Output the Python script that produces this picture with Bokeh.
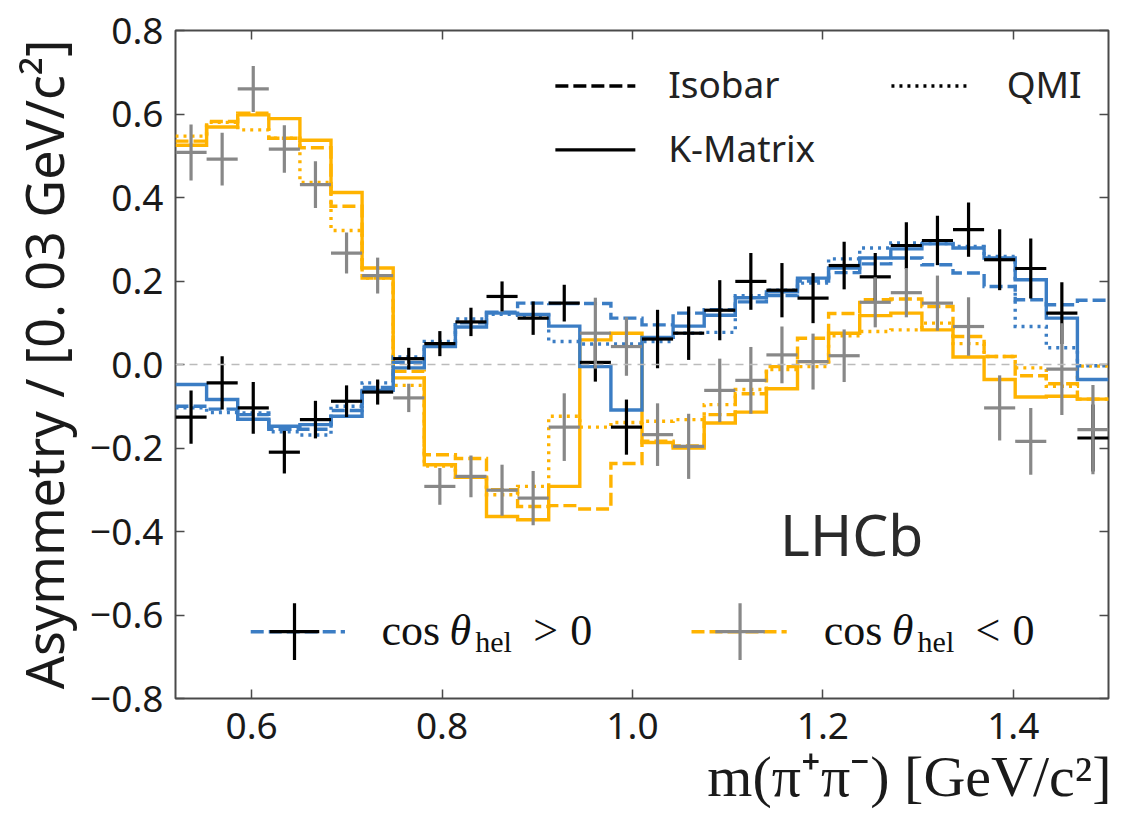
import numpy as np
from bokeh.plotting import figure
from bokeh.models import FixedTicker, LinearAxis, Label, Span, CustomJSTickFormatter, Title
from bokeh.embed import file_html
from bokeh.resources import INLINE

# ---------------------------------------------------------------- binning
M_MIN, M_MAX, N_BINS = 0.52, 1.50, 30
edges = np.linspace(M_MIN, M_MAX, N_BINS + 1)
centres = 0.5 * (edges[:-1] + edges[1:])

# ---------------------------------------------------------------- data, cos(theta_hel) > 0
asym_pos = [-0.126, -0.044, -0.104, -0.210, -0.132, -0.088, -0.066, 0.014, 0.050, 0.102,
            0.163, 0.111, 0.147, 0.005, -0.150, 0.061, 0.075, 0.130, 0.199, 0.178,
            0.159, 0.237, 0.210, 0.285, 0.297, 0.323, 0.251, 0.230, 0.123, -0.176]
err_pos = [0.064, 0.064, 0.062, 0.051, 0.045, 0.038, 0.030, 0.026, 0.030, 0.034,
           0.036, 0.040, 0.044, 0.046, 0.066, 0.070, 0.064, 0.072, 0.068, 0.065,
           0.060, 0.057, 0.057, 0.056, 0.059, 0.065, 0.073, 0.072, 0.074, 0.080]

# ---------------------------------------------------------------- data, cos(theta_hel) < 0
asym_neg = [0.508, 0.492, 0.660, 0.516, 0.431, 0.267, 0.213, -0.080, -0.292, -0.268,
            -0.301, -0.320, -0.150, 0.075, 0.043, -0.168, -0.196, -0.062, -0.038, 0.023,
            0.007, 0.021, 0.149, 0.172, 0.147, 0.091, -0.104, -0.184, -0.011, -0.156]
err_neg = [0.067, 0.063, 0.055, 0.057, 0.056, 0.049, 0.043, 0.034, 0.044, 0.050,
           0.061, 0.065, 0.081, 0.085, 0.070, 0.075, 0.078, 0.076, 0.080, 0.068,
           0.067, 0.063, 0.060, 0.059, 0.066, 0.070, 0.078, 0.080, 0.110, 0.107]

# ---------------------------------------------------------------- amplitude models, cos > 0
kmatrix_pos = [-0.048, -0.084, -0.131, -0.148, -0.144, -0.124, -0.062, -0.008, 0.043, 0.090,
               0.123, 0.120, 0.092, -0.005, -0.109, 0.065, 0.092, 0.118, 0.160, 0.174,
               0.207, 0.231, 0.255, 0.277, 0.289, 0.279, 0.255, 0.203, 0.111, -0.036]
isobar_pos = [-0.100, -0.107, -0.120, -0.155, -0.155, -0.110, -0.055, 0.005, 0.050, 0.100,
              0.125, 0.147, 0.146, 0.146, 0.111, 0.095, 0.123, 0.131, 0.150, 0.165,
              0.200, 0.220, 0.241, 0.255, 0.239, 0.219, 0.187, 0.155, 0.143, 0.154]
qmi_pos = [-0.104, -0.115, -0.116, -0.161, -0.169, -0.100, -0.044, 0.018, 0.055, 0.109,
           0.120, 0.118, 0.055, 0.049, 0.049, 0.055, 0.075, 0.077, 0.165, 0.178,
           0.195, 0.253, 0.279, 0.291, 0.290, 0.283, 0.259, 0.091, 0.040, -0.003]

# ---------------------------------------------------------------- amplitude models, cos < 0
kmatrix_neg = [0.525, 0.569, 0.598, 0.589, 0.537, 0.412, 0.231, -0.032, -0.240, -0.270,
               -0.364, -0.372, -0.292, 0.059, 0.075, -0.187, -0.200, -0.140, -0.114, -0.058,
               0.007, 0.075, 0.117, 0.123, 0.083, 0.018, -0.036, -0.078, -0.076, -0.083]
isobar_neg = [0.535, 0.582, 0.602, 0.542, 0.519, 0.379, 0.207, -0.016, -0.216, -0.225,
              -0.300, -0.340, -0.338, -0.346, -0.237, -0.184, -0.195, -0.120, -0.070, -0.005,
              0.063, 0.122, 0.155, 0.157, 0.139, 0.067, 0.019, -0.027, -0.046, -0.083]
qmi_neg = [0.547, 0.580, 0.562, 0.542, 0.436, 0.321, 0.207, -0.050, -0.243, -0.270,
           -0.312, -0.292, -0.124, -0.150, -0.139, -0.136, -0.132, -0.096, -0.060, -0.012,
           -0.005, 0.069, 0.079, 0.083, 0.099, 0.050, 0.019, -0.008, -0.052, -0.004]

x_ticks = [0.6, 0.8, 1.0, 1.2, 1.4]
y_ticks = [-0.8, -0.6, -0.4, -0.2, 0.0, 0.2, 0.4, 0.6, 0.8]

# ---------------------------------------------------------------- style
BLUE = "#3b7dc4"
ORANGE = "#ffb300"
GREY = "#888888"
BLACK = "#000000"
SANS = "Noto Sans"
SERIF = "Liberation Serif"
LW = 3.4
DASH = "13 5"
DOT = "3 5"

p = figure(width=1121, height=813, x_range=(M_MIN, M_MAX), y_range=(-0.8, 0.8),
           output_backend="svg", toolbar_location=None,
           min_border_left=175, min_border_right=13, min_border_top=30, min_border_bottom=115)
p.xgrid.visible = False
p.ygrid.visible = False
p.outline_line_color = "#4a4a4a"
p.outline_line_width = 2
p.background_fill_color = "white"
p.border_fill_color = "white"

fmt = CustomJSTickFormatter(code="return (tick < -1e-9 ? '\u2212' : '') + Math.abs(tick).toFixed(1);")


def style_axis(ax, ticks, show_labels):
    ax.ticker = FixedTicker(ticks=ticks)
    ax.axis_line_color = None
    ax.major_tick_in = 9
    ax.major_tick_out = 0
    ax.major_tick_line_color = "#4a4a4a"
    ax.major_tick_line_width = 1.5
    ax.minor_tick_line_color = None
    if show_labels:
        ax.formatter = fmt
        ax.major_label_text_font = SANS
        ax.major_label_text_font_size = "37px"
        ax.major_label_text_color = "#1a1a1a"
        ax.major_label_standoff = 12
    else:
        ax.major_label_text_font_size = "1px"
        ax.major_label_text_color = None
        ax.major_label_standoff = 0


style_axis(p.xaxis[0], x_ticks, True)
style_axis(p.yaxis[0], y_ticks, True)
p.xaxis[0].major_label_standoff = 14
top_axis = LinearAxis()
right_axis = LinearAxis()
style_axis(top_axis, x_ticks, False)
style_axis(right_axis, y_ticks, False)
p.add_layout(top_axis, "above")
p.add_layout(right_axis, "right")

# axis titles
p.yaxis[0].axis_label = "Asymmetry / [0. 03 GeV/c²]"
p.yaxis[0].axis_label_text_font = SANS
p.yaxis[0].axis_label_text_font_size = "52px"
p.yaxis[0].axis_label_text_font_style = "normal"
p.yaxis[0].axis_label_text_color = "#1a1a1a"
p.yaxis[0].axis_label_standoff = 8

p.add_layout(Title(text="m(π⁺π⁻) [GeV/c²]", align="right", text_font=SERIF,
                   text_font_size="58px", text_font_style="normal", text_color="#1a1a1a",
                   standoff=0, offset=-3), "below")

p.add_layout(Span(location=0.0, dimension="width", line_color="#bbbbbb",
                  line_dash="8 6", line_width=1.5))


def step_xy(vals):
    xs = np.repeat(edges, 2)[1:-1]
    ys = np.repeat(np.asarray(vals, dtype=float), 2)
    return xs, ys


def draw_model(vals, color, dash):
    xs, ys = step_xy(vals)
    p.line(xs, ys, line_color=color, line_width=LW, line_dash=dash, line_join="miter")


# model curves: cos < 0 (orange) underneath, cos > 0 (blue) above
draw_model(isobar_neg, ORANGE, DASH)
draw_model(qmi_neg, ORANGE, DOT)
draw_model(kmatrix_neg, ORANGE, "solid")
draw_model(isobar_pos, BLUE, DASH)
draw_model(qmi_pos, BLUE, DOT)
draw_model(kmatrix_pos, BLUE, "solid")


def draw_points(vals, errs, color):
    v = np.asarray(vals, dtype=float)
    e = np.asarray(errs, dtype=float)
    p.segment(x0=edges[:-1], x1=edges[1:], y0=v, y1=v, line_color=color, line_width=3.2)
    p.segment(x0=centres, x1=centres, y0=v - e, y1=v + e, line_color=color, line_width=3.2)


draw_points(asym_pos, err_pos, BLACK)
draw_points(asym_neg, err_neg, GREY)

# ---------------------------------------------------------------- model legend (top)
p.line([0.919, 1.003], [0.667, 0.667], line_color=BLACK, line_width=LW, line_dash=DASH)
p.line([0.919, 1.003], [0.514, 0.514], line_color=BLACK, line_width=LW)
p.line([1.272, 1.352], [0.667, 0.667], line_color=BLACK, line_width=LW, line_dash=DOT)
for tx, ty, txt in [(1.0375, 0.672, "Isobar"), (1.0375, 0.519, "K-Matrix"), (1.393, 0.672, "QMI")]:
    p.add_layout(Label(x=tx, y=ty, text=txt, text_font=SANS, text_font_size="37px",
                       text_color="#222222", text_baseline="middle", text_align="left"))

# ---------------------------------------------------------------- data legend (bottom)
LEG_Y = -0.640
for (xl, xr, xc, line_col, mark_col) in [(0.599, 0.698, 0.645, BLUE, BLACK),
                                         (1.062, 1.162, 1.113, ORANGE, GREY)]:
    p.line([xl, xr], [LEG_Y, LEG_Y], line_color=line_col, line_width=LW, line_dash=DASH)
    p.segment(x0=[xc - 0.026], x1=[xc + 0.026], y0=[LEG_Y], y1=[LEG_Y],
              line_color=mark_col, line_width=3.2)
    p.segment(x0=[xc], x1=[xc], y0=[LEG_Y - 0.068], y1=[LEG_Y + 0.068],
              line_color=mark_col, line_width=3.2)

BASE = -0.638
SUB = -0.664
for x0, rel in [(0.7364, ">"), (1.201, "<")]:
    pieces = [(x0, BASE, "cos", "normal", "44px"),
              (x0 + 0.0713, BASE, "θ", "italic", "44px"),
              (x0 + 0.0985, SUB, "hel", "normal", "30px"),
              (x0 + 0.1594, BASE, rel, "normal", "44px"),
              (x0 + 0.1982, BASE, "0", "normal", "44px")]
    for tx, ty, txt, style, size in pieces:
        p.add_layout(Label(x=tx, y=ty, text=txt, text_font=SERIF, text_font_style=style,
                           text_font_size=size, text_color="#111111",
                           text_baseline="alphabetic", text_align="left"))

# ---------------------------------------------------------------- experiment tag
p.add_layout(Label(x=1.155, y=-0.405, text="LHCb", text_font=SANS, text_font_size="57px",
                   text_color="#2a2a2a", text_baseline="alphabetic", text_align="left"))

open("out.html", "w").write(file_html(p, INLINE))
